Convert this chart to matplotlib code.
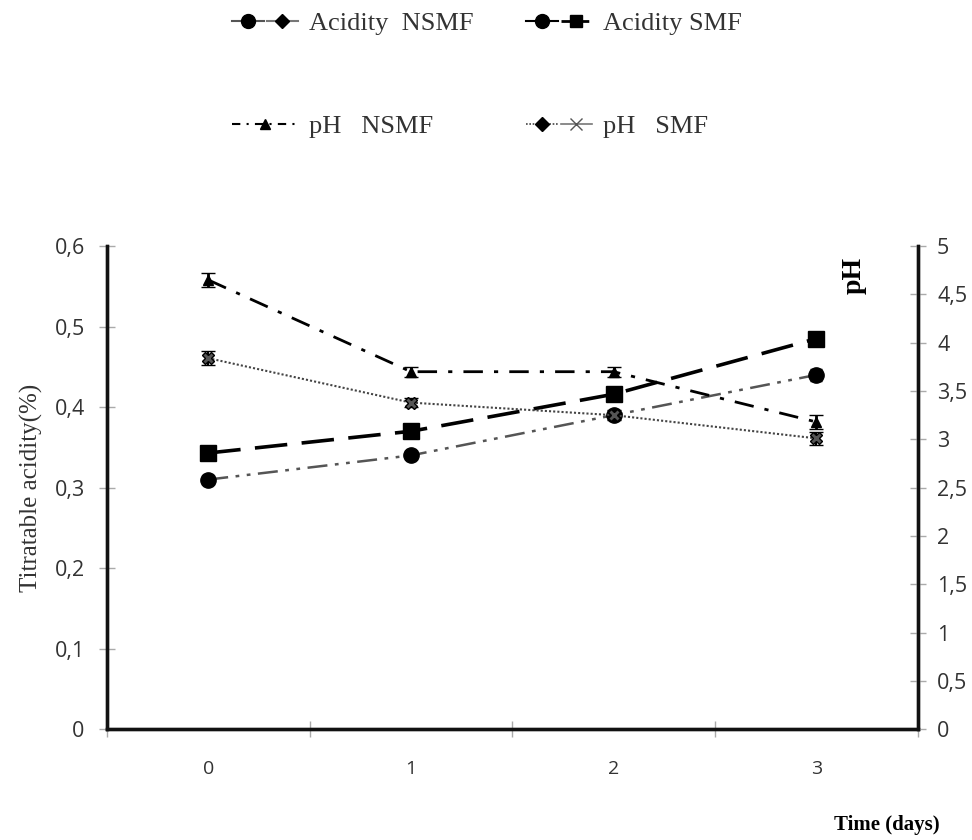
import numpy as np
import matplotlib
matplotlib.use("Agg")
import matplotlib.pyplot as plt
from matplotlib.lines import Line2D
from matplotlib.legend_handler import HandlerTuple

days = [0, 1, 2, 3]
day_labels = ["0", "1", "2", "3"]

acid_nsmf = [0.31, 0.34, 0.39, 0.44]
acid_smf = [0.343, 0.37, 0.416, 0.485]
ph_nsmf = [4.65, 3.70, 3.70, 3.18]
ph_smf = [3.84, 3.38, 3.25, 3.01]

acid_err = [0.006, 0.005, 0.005, 0.007]
ph_err = [0.07, 0.05, 0.05, 0.07]

left_ticks = [0, 0.1, 0.2, 0.3, 0.4, 0.5, 0.6]
left_labels = ["0", "0,1", "0,2", "0,3", "0,4", "0,5", "0,6"]
right_ticks = [0, 0.5, 1, 1.5, 2, 2.5, 3, 3.5, 4, 4.5, 5]
right_labels = ["0", "0,5", "1", "1,5", "2", "2,5", "3", "3,5", "4", "4,5", "5"]

serif = "Liberation Serif"
sans = "Open Sans"

fig = plt.figure(figsize=(9.72, 8.4), dpi=100)
ax = fig.add_axes([0.110, 0.132, 0.834, 0.575])
ax2 = ax.twinx()

# acidity series on left axis
ax.errorbar(days, acid_nsmf, yerr=acid_err, color="#555555", ls=(0, (8, 3, 1.5, 3, 1.5, 3)),
            lw=1.8, marker="o", ms=11, mfc="black", mec="black", ecolor="black",
            capsize=4, zorder=3)
ax.errorbar(days, acid_smf, yerr=acid_err, color="black", ls=(0, (9, 4)), lw=2.6,
            marker="s", ms=11, mfc="black", mec="black", ecolor="black",
            capsize=4, zorder=4)

# pH series on right axis
ax2.errorbar(days, ph_nsmf, yerr=ph_err, color="black", ls=(0, (7, 4, 1.5, 4)), lw=2.0,
             marker="^", ms=7, mfc="black", mec="black", ecolor="black",
             capsize=5, zorder=3)
ax2.errorbar(days, ph_smf, yerr=ph_err, color="#444444", ls=(0, (1, 1)), lw=1.5,
             marker="X", ms=9, mfc="#555555", mec="black", ecolor="black",
             capsize=5, zorder=3)

ax.set_xlim(-0.5, 3.5)
ax.set_ylim(0, 0.6)
ax2.set_ylim(0, 5)

ax.set_xticks(days)
ax.set_xticklabels(day_labels, fontfamily=sans, fontsize=14, color="#333333")
ax.set_xticks([-0.5, 0.5, 1.5, 2.5, 3.5], minor=True)
ax.tick_params(axis="x", which="major", length=0, pad=22)
ax.tick_params(axis="x", which="minor", direction="inout", length=12, color="#aaaaaa", width=1)

ax.set_yticks(left_ticks)
ax.set_yticklabels(left_labels, fontfamily=sans, fontsize=15.5, color="#333333")
ax.tick_params(axis="y", direction="inout", length=12, color="#aaaaaa", width=1, pad=10)

ax2.set_yticks(right_ticks)
ax2.set_yticklabels(right_labels, fontfamily=sans, fontsize=15.5, color="#333333")
ax2.tick_params(axis="y", direction="inout", length=12, color="#aaaaaa", width=1, pad=8)

for a in (ax, ax2):
    a.spines["top"].set_visible(False)
    for s in ("left", "right", "bottom"):
        a.spines[s].set_linewidth(2.4)
        a.spines[s].set_color("#111111")

ax.set_ylabel("Titratable acidity(%)", fontfamily=serif, fontsize=18, color="#333333", labelpad=8)
ax2.text(0.922, 0.94, "pH", transform=ax.transAxes, rotation=90, ha="center", va="center",
         fontfamily=serif, fontsize=20, fontweight="bold")
fig.text(0.967, 0.018, "Time (days)", ha="right", va="center",
         fontfamily=serif, fontsize=15, fontweight="bold")

# legend handles built like the original (two markers per entry)
h1 = (Line2D([], [], color="#555555", marker="o", ms=10, mfc="black", mec="black", lw=1.5),
      Line2D([], [], color="#777777", marker="D", ms=7, mfc="black", mec="black", lw=1.5))
h2 = (Line2D([], [], color="black", marker="o", ms=10, mfc="black", lw=1.5),
      Line2D([], [], color="black", marker="s", ms=9, mfc="black", ls=(0, (4, 2)), lw=2))
h3 = Line2D([], [], color="black", marker="^", ms=7, ls=(0, (4, 3, 1, 3)), lw=1.5)
h4 = (Line2D([], [], color="#444444", marker="D", ms=7, mfc="black", mec="black", ls=(0, (1, 1)), lw=1.2),
      Line2D([], [], color="#777777", marker="x", ms=8, mec="#555555", lw=1.2))

# legend fills column-first, so order gives rows: acidity pair, then pH pair
fig.legend([h1, h3, h2, h4],
           ["Acidity  NSMF", "pH   NSMF", "Acidity SMF", "pH   SMF"],
           handler_map={tuple: HandlerTuple(ndivide=None, pad=0.1)},
           ncol=2, loc="center", bbox_to_anchor=(0.501, 0.911), frameon=False,
           prop={"family": serif, "size": 19}, handlelength=2.5, handletextpad=0.4,
           columnspacing=2.0, labelspacing=3.0, labelcolor="#333333")

fig.savefig("out.png", dpi=100)
